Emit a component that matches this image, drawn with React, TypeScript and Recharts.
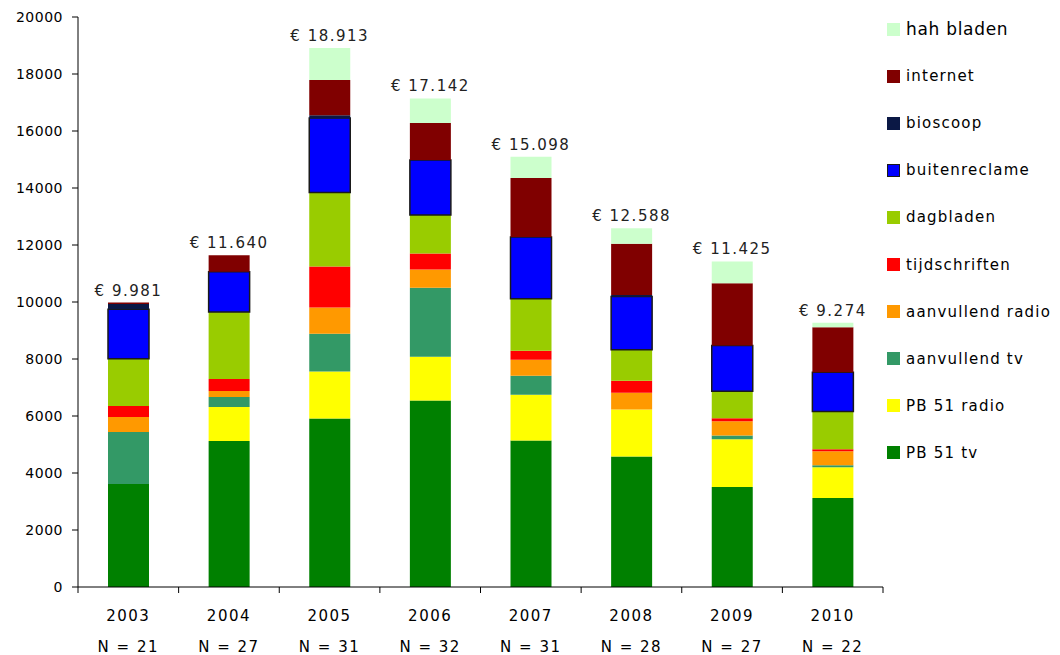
import React from "react";
import { BarChart, Bar, XAxis, YAxis, LabelList } from "recharts";

const years = ["2003", "2004", "2005", "2006", "2007", "2008", "2009", "2010"];
const nLabels = ["N = 21", "N = 27", "N = 31", "N = 32", "N = 31", "N = 28", "N = 27", "N = 22"];
const totalLabels = ["€ 9.981", "€ 11.640", "€ 18.913", "€ 17.142", "€ 15.098", "€ 12.588", "€ 11.425", "€ 9.274"];

const pb51Tv = [3610, 5120, 5915, 6540, 5140, 4580, 3505, 3120];
const pb51Radio = [0, 1195, 1645, 1540, 1610, 1645, 1680, 1085];
const aanvTv = [1830, 350, 1325, 2420, 665, 0, 130, 70];
const aanvRadio = [525, 210, 920, 640, 560, 595, 505, 490];
const tijdschriften = [385, 420, 1440, 560, 315, 420, 105, 70];
const dagbladen = [1660, 2350, 2600, 1350, 1820, 1085, 945, 1320];
const buitenreclame = [1740, 1415, 2610, 1935, 2170, 1870, 1600, 1380];
const bioscoop = [180, 0, 100, 0, 0, 55, 0, 0];
const internet = [51, 580, 1235, 1300, 2070, 1790, 2185, 1575];
const hahBladen = [0, 0, 1123, 857, 748, 548, 770, 164];

const yTicks = [0, 2000, 4000, 6000, 8000, 10000, 12000, 14000, 16000, 18000, 20000];

const series = [
  { key: "pb51Tv", name: "PB 51 tv", values: pb51Tv, color: "#008000" },
  { key: "pb51Radio", name: "PB 51 radio", values: pb51Radio, color: "#FFFF00" },
  { key: "aanvTv", name: "aanvullend tv", values: aanvTv, color: "#339966" },
  { key: "aanvRadio", name: "aanvullend radio", values: aanvRadio, color: "#FF9900" },
  { key: "tijdschriften", name: "tijdschriften", values: tijdschriften, color: "#FF0000" },
  { key: "dagbladen", name: "dagbladen", values: dagbladen, color: "#99CC00" },
  { key: "buitenreclame", name: "buitenreclame", values: buitenreclame, color: "#0000FF", stroke: "#1a1a1a" },
  { key: "bioscoop", name: "bioscoop", values: bioscoop, color: "#0B1845" },
  { key: "internet", name: "internet", values: internet, color: "#800000" },
  { key: "hahBladen", name: "hah bladen", values: hahBladen, color: "#CCFFCC" },
];

const data = years.map((y, i) => {
  const row: any = { year: y, n: nLabels[i], label: totalLabels[i] };
  let top = "";
  series.forEach((s) => {
    row[s.key] = s.values[i];
    if (s.values[i] > 0) top = s.key;
  });
  row.topKey = top;
  return row;
});

const FONT = "'DejaVu Sans', Verdana, sans-serif";

const YearTick = (props: any) => {
  const { x, y, payload, index, visibleTicksCount } = props;
  const half = payload && payload.offset ? payload.offset : 50;
  const axisY = y - 8;
  return (
    <g>
      <line x1={x - half} x2={x - half} y1={axisY} y2={axisY + 6} stroke="#000" />
      {index === visibleTicksCount - 1 ? (
        <line x1={x + half} x2={x + half} y1={axisY} y2={axisY + 6} stroke="#000" />
      ) : null}
      <text x={x} y={y + 26} textAnchor="middle" fontFamily={FONT} fontSize={15} fill="#000" style={{ letterSpacing: 1.5 }}>
        {payload.value}
      </text>
      <text x={x} y={y + 57} textAnchor="middle" fontFamily={FONT} fontSize={15} fill="#000" style={{ letterSpacing: 1.5 }}>
        {data[payload.index ?? index]?.n}
      </text>
    </g>
  );
};

const TotalLabel = (props: any) => {
  const { x, y, width, value } = props;
  if (!value) return null;
  return (
    <text x={x + width / 2} y={y - 7} textAnchor="middle" fontFamily={FONT} fontSize={15} fill="#222" style={{ letterSpacing: 1.5 }}>
      {value}
    </text>
  );
};

const legendOrder = [...series].reverse();

export default function App() {
  return (
    <div style={{ position: "absolute", left: 0, top: 0, width: 1060, height: 655, background: "#fff" }}>
      <BarChart
        width={1060}
        height={655}
        data={data}
        margin={{ top: 17, right: 177, bottom: 0, left: 0 }}
        barSize={41}
      >
        <XAxis
          dataKey="year"
          interval={0}
          tickLine={false}
          axisLine={{ stroke: "#000" }}
          tick={<YearTick />}
          height={68}
        />
        <YAxis
          domain={[0, 20000]}
          ticks={yTicks}
          width={78}
          tickSize={6}
          tickMargin={9}
          axisLine={{ stroke: "#000" }}
          tickLine={{ stroke: "#000" }}
          tick={{ fontFamily: FONT, fontSize: 14, fill: "#000", style: { letterSpacing: 0.5 } }}
          interval={0}
        />
        {series.map((s) => (
          <Bar
            key={s.key}
            dataKey={s.key}
            name={s.name}
            stackId="a"
            fill={s.color}
            stroke={s.stroke}
            strokeWidth={s.stroke ? 1.5 : 0}
            isAnimationActive={false}
          >
            <LabelList
              dataKey={(p: any) => (p && p.topKey === s.key ? p.label : "")}
              content={<TotalLabel />}
            />
          </Bar>
        ))}
      </BarChart>
      {legendOrder.map((s) => (
        <div
          key={s.key}
          style={{
            position: "absolute",
            left: 887,
            top: 29 + legendOrder.indexOf(s) * 47.1 - 10,
            height: 20,
            display: "flex",
            alignItems: "center",
            fontFamily: FONT,
            fontSize: s.key === "hahBladen" ? 17 : 15,
            letterSpacing: s.key === "hahBladen" ? 0.7 : 1.2,
            color: "#000",
            whiteSpace: "nowrap",
          }}
        >
          <span
            style={{
              display: "inline-block",
              width: s.stroke ? 11 : 13,
              height: s.stroke ? 11 : 13,
              background: s.color,
              border: s.stroke ? "1px solid #1a1a1a" : "none",
              marginRight: 6,
            }}
          />
          <span>{s.name}</span>
        </div>
      ))}
    </div>
  );
}
